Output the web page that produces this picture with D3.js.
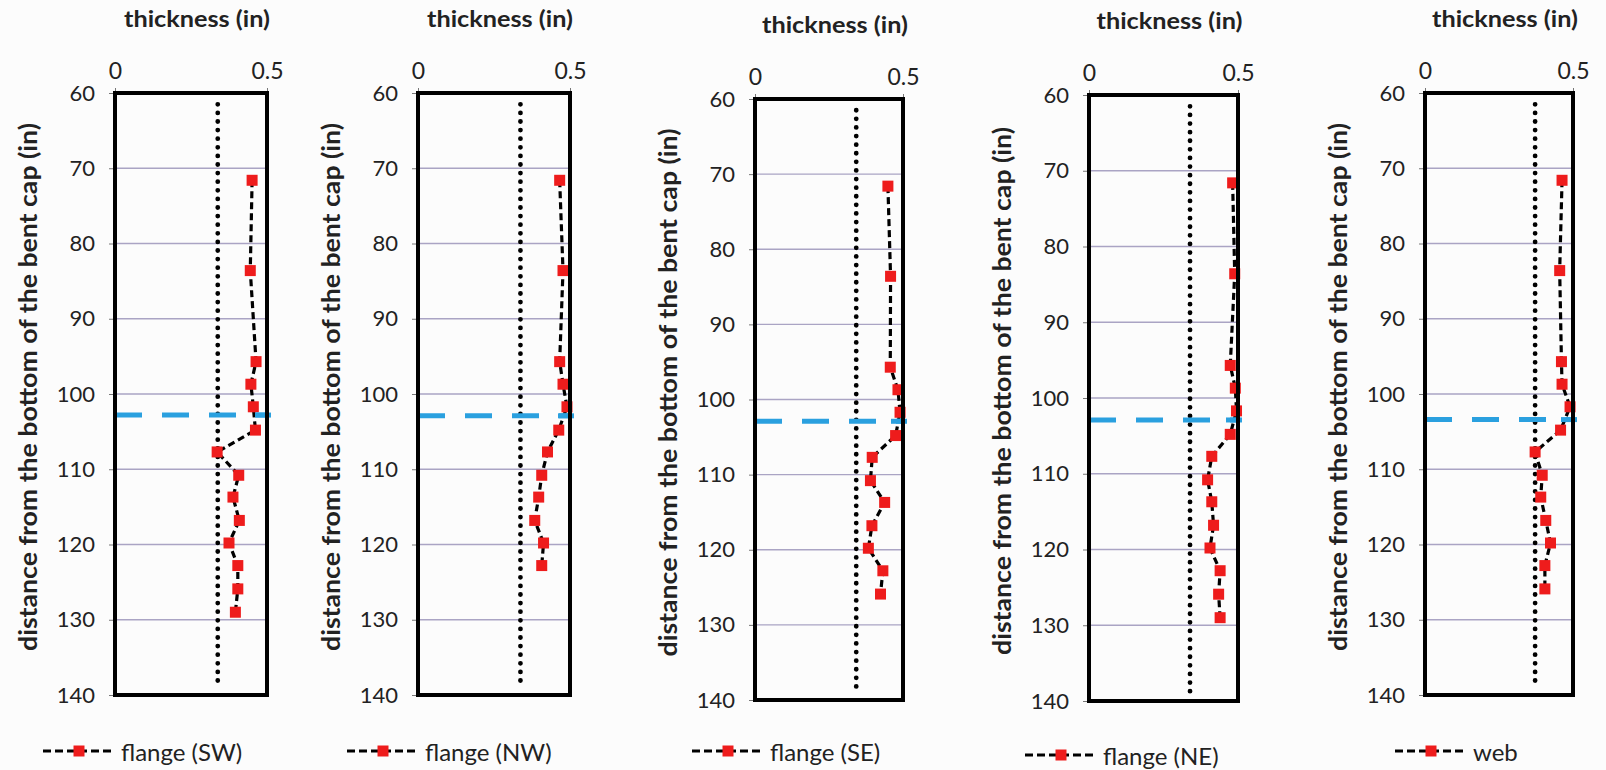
<!DOCTYPE html>
<html><head><meta charset="utf-8">
<script src="https://cdn.jsdelivr.net/npm/d3@7"></script>
<style>
html,body{margin:0;padding:0;background:#fcfcfc;}
svg{display:block;}
text{font-family:Lato,"Open Sans",sans-serif;fill:#222;}
</style></head>
<body>
<svg id="c" width="1606" height="770"></svg>
<script>
// ---- data ----
const seriesNames = ["flange (SW)", "flange (NW)", "flange (SE)", "flange (NE)", "web"];
const depths = [71.6, 83.6, 95.7, 98.7, 101.7, 104.8, 107.7, 110.8, 113.7, 116.8, 119.8, 122.8, 125.9, 129.0];
const thickSW = [0.451, 0.445, 0.464, 0.447, 0.455, 0.462, 0.336, 0.407, 0.388, 0.409, 0.375, 0.404, 0.404, 0.396];
const thickNW = [0.466, 0.477, 0.466, 0.477, 0.490, 0.463, 0.426, 0.407, 0.397, 0.384, 0.413, 0.407];
const thickSE = [0.449, 0.458, 0.457, 0.483, 0.490, 0.475, 0.396, 0.390, 0.438, 0.395, 0.383, 0.432, 0.424];
const thickNE = [0.482, 0.489, 0.474, 0.491, 0.495, 0.474, 0.412, 0.398, 0.412, 0.418, 0.406, 0.440, 0.435, 0.440];
const thickWeb = [0.463, 0.455, 0.461, 0.463, 0.490, 0.458, 0.372, 0.396, 0.391, 0.408, 0.424, 0.405, 0.405];
const nominalThick = [0.338, 0.337, 0.342, 0.339, 0.372];
const groundDepth = [102.8, 102.9, 102.9, 102.9, 103.4];
const xTicks = [0, 0.5];
const yTicks = [60, 70, 80, 90, 100, 110, 120, 130, 140];
const xTitle = "thickness (in)";
const yTitle = "distance from the bottom of the bent  cap (in)";

// ---- layout ----
const allThick = [thickSW, thickNW, thickSE, thickNE, thickWeb];
const boxes = [
  {x0:115, x1:267, y0:93, y1:695, lx:43, ly:751},
  {x0:418, x1:570, y0:93, y1:695, lx:347, ly:751},
  {x0:755, x1:903, y0:99, y1:700, lx:692, ly:751},
  {x0:1089, x1:1238, y0:95, y1:701, lx:1025, ly:755},
  {x0:1425, x1:1573, y0:93, y1:695, lx:1395, ly:751}
];
const svg = d3.select("#c");
const RED = "#ee1c1c", BLUE = "#2aa0df", GRID = "#aaa4c4";

boxes.forEach((b, i) => {
  const x = d3.scaleLinear().domain([0, 0.5]).range([b.x0, b.x1]);
  const y = d3.scaleLinear().domain([60, 140]).range([b.y0, b.y1]);
  const g = svg.append("g");

  // gridlines
  g.selectAll("line.grid").data(yTicks.slice(1, -1)).join("line")
    .attr("x1", b.x0).attr("x2", b.x1)
    .attr("y1", d => y(d)).attr("y2", d => y(d))
    .attr("stroke", GRID).attr("stroke-width", 1.3);

  // y axis (left)
  const ya = g.append("g").attr("transform", `translate(${b.x0},0)`)
    .call(d3.axisLeft(y).tickValues(yTicks).tickSize(6).tickPadding(14).tickFormat(d3.format("d")));
  ya.select(".domain").remove();
  ya.selectAll(".tick line").attr("stroke", "#777");
  ya.selectAll("text").attr("font-size", 22).attr("fill", "#333").style("font-family", "Lato");

  // x axis (top)
  const xa = g.append("g").attr("transform", `translate(0,${b.y0})`)
    .call(d3.axisTop(x).tickValues(xTicks).tickSize(5).tickPadding(9).tickFormat(d => d === 0 ? "0" : d3.format(".1f")(d)));
  xa.select(".domain").remove();
  xa.selectAll(".tick line").attr("stroke", "#777");
  xa.selectAll("text").attr("font-size", 23).attr("fill", "#333").style("font-family", "Lato");

  // x title
  g.append("text").attr("x", (b.x0 + b.x1) / 2 + 6).attr("y", b.y0 - 66)
    .attr("text-anchor", "middle").attr("font-weight", "bold").attr("font-size", 22)
    .attr("textLength", 146).attr("lengthAdjust", "spacingAndGlyphs")
    .text(xTitle);

  // y title
  const cy = (b.y0 + b.y1) / 2 - 7;
  g.append("text").attr("transform", `translate(${b.x0 - 88},${cy}) rotate(-90)`)
    .attr("text-anchor", "middle").attr("dominant-baseline", "central")
    .attr("font-weight", "bold").attr("font-size", 24)
    .attr("textLength", 528).attr("lengthAdjust", "spacingAndGlyphs")
    .text(yTitle);

  // nominal dotted line
  g.append("line").attr("x1", x(nominalThick[i])).attr("x2", x(nominalThick[i]))
    .attr("y1", y(61.5)).attr("y2", y(139))
    .attr("stroke", "#000").attr("stroke-width", 4.8)
    .attr("stroke-dasharray", "0,8.6").attr("stroke-linecap", "round");

  // data
  const vals = allThick[i];
  const pts = vals.map((v, k) => [v, depths[k]]);
  g.append("path").datum(pts)
    .attr("d", d3.line().x(d => x(d[0])).y(d => y(d[1])))
    .attr("fill", "none").attr("stroke", "#000").attr("stroke-width", 3.2)
    .attr("stroke-dasharray", "7,4");
  g.selectAll("rect.pt").data(pts).join("rect")
    .attr("x", d => x(d[0]) - 5.5).attr("y", d => y(d[1]) - 5.5)
    .attr("width", 11).attr("height", 11).attr("fill", RED);

  // ground line (blue dashed)
  g.append("line").attr("x1", x(0)).attr("x2", x(0.5) + 2)
    .attr("y1", y(groundDepth[i])).attr("y2", y(groundDepth[i]))
    .attr("stroke", BLUE).attr("stroke-width", 5).attr("stroke-dasharray", "27,20");
  g.append("line").attr("x1", x(0.5) - 12).attr("x2", x(0.5) + 4)
    .attr("y1", y(groundDepth[i])).attr("y2", y(groundDepth[i]))
    .attr("stroke", BLUE).attr("stroke-width", 5);

  // box frame
  g.append("rect").attr("x", b.x0).attr("y", b.y0)
    .attr("width", b.x1 - b.x0).attr("height", b.y1 - b.y0)
    .attr("fill", "none").attr("stroke", "#000").attr("stroke-width", 4);

  // legend
  const lg = svg.append("g").attr("transform", `translate(${b.lx},${b.ly})`);
  lg.append("line").attr("x1", 0).attr("x2", 72).attr("y1", 0).attr("y2", 0)
    .attr("stroke", "#000").attr("stroke-width", 3.2).attr("stroke-dasharray", "8,4");
  lg.append("rect").attr("x", 30.5).attr("y", -5.5).attr("width", 11).attr("height", 11).attr("fill", RED);
  lg.append("text").attr("x", 78).attr("y", 0).attr("dominant-baseline", "central")
    .attr("font-size", 24).attr("fill", "#222").text(seriesNames[i]);
});
</script>
</body></html>
